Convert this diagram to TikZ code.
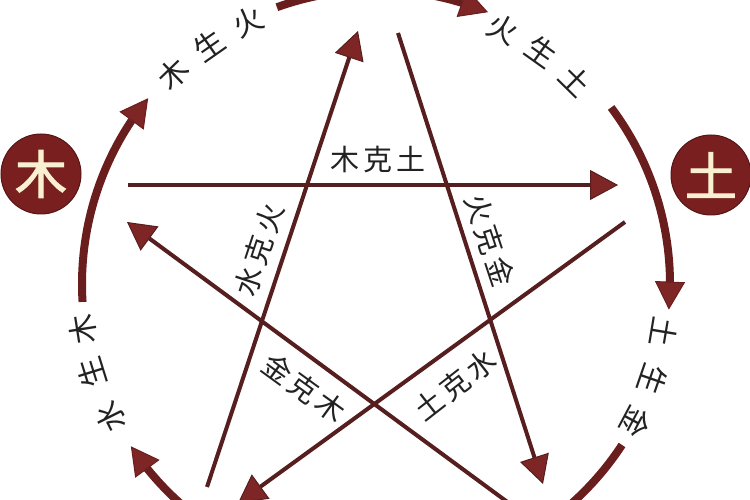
\documentclass[tikz,border=0pt]{standalone}
\usepackage{fontspec}
\newfontfamily\cjk{Noto Sans CJK SC}
\newfontfamily\cjkb{Noto Sans CJK SC}[FakeBold=2]
\usetikzlibrary{arrows.meta,bending,calc}
\definecolor{lin}{HTML}{561E1E}
\definecolor{ringc}{HTML}{6A1D1D}
\definecolor{afill}{HTML}{7E2626}
\definecolor{elemc}{HTML}{7A1F1F}
\definecolor{cream}{HTML}{F8F0D0}
\definecolor{ink}{HTML}{222222}
\newcommand\kg{\kern4pt}
\begin{document}
\begin{tikzpicture}[x=1pt,y=1pt,
  tipx/.tip={Triangle[length=28pt,width=30pt,fill=afill,line width=1pt]},
  kline/.style={draw=lin, line width=4pt, -tipx},
  rline/.style={draw=ringc, line width=8pt},
  rarrow/.style={draw=ringc, line width=8pt, -tipx},
  elem/.style={circle, fill=elemc, draw=elemc!70!black, line width=1pt, minimum size=80pt, inner sep=0pt, text=cream, font=\cjkb\fontsize{52}{52}\selectfont},
  rtxt/.style={inner sep=0pt, text=ink, font=\cjk\fontsize{30}{30}\selectfont},
  stxt/.style={inner sep=0pt, text=ink, font=\cjk\fontsize{29}{29}\selectfont}
]
\useasboundingbox (0,0) rectangle (750,500);
\clip (0,0) rectangle (750,500);
\fill[white] (0,0) rectangle (750,500);
\coordinate (C) at (376,216);

% elements
\node[elem] (wood) at (41,326) {木};
\node[elem] (earth) at (711,325) {土};

% ring arcs
\coordinate (r1s) at ($(C)+(183.5:294)$);
\draw[rarrow] (r1s) arc[start angle=183.5, end angle=140.8, radius=294];
\coordinate (r2s) at ($(C)+(109.7:294)$);
\draw[rarrow] (r2s) arc[start angle=109.7, end angle=67.6, radius=294];
\coordinate (r3s) at ($(C)+(36.9:294)$);
\draw[rarrow] (r3s) arc[start angle=36.9, end angle=-5, radius=294];
\coordinate (r4s) at ($(C)+(-33.2:294)$);
\draw[rline] (r4s) arc[start angle=-33.2, end angle=-65, radius=294];
\coordinate (r5s) at ($(C)+(250:294)$);
\draw[rarrow] (r5s) arc[start angle=250, end angle=213.5, radius=294];

% ring labels
\node[rtxt, rotate=44] (l1a) at ($(C)+(134:292)$) {木};
\node[rtxt, rotate=35] (l1b) at ($(C)+(125:292)$) {生};
\node[rtxt, rotate=26] (l1c) at ($(C)+(116:292)$) {火};
\node[rtxt, rotate=-26.5] (l2a) at ($(C)+(63.5:285)$) {火};
\node[rtxt, rotate=-35.5] (l2b) at ($(C)+(54.5:285)$) {生};
\node[rtxt, rotate=-44.5] (l2c) at ($(C)+(45.5:285)$) {土};
\node[rtxt, rotate=-99.5] (l3a) at ($(C)+(-9.5:292)$) {土};
\node[rtxt, rotate=-109] (l3b) at ($(C)+(-19:293)$) {生};
\node[rtxt, rotate=-118] (l3c) at ($(C)+(-28:295)$) {金};
\node[rtxt, rotate=116.6] (l4a) at ($(C)+(206.6:297)$) {水};
\node[rtxt, rotate=107.3] (l4b) at ($(C)+(197.3:298)$) {生};
\node[rtxt, rotate=98.9] (l4c) at ($(C)+(188.9:297)$) {木};

% star lines
\coordinate (mkA) at (128,315);
\coordinate (mkB) at (618,315);
\coordinate (shA) at (207,13);
\coordinate (shB) at (358,469);
\coordinate (hjA) at (398,467);
\coordinate (hjB) at (543,16);
\coordinate (tsA) at (625,278);
\coordinate (tsB) at (238,-3);
\coordinate (jmA) at (540,-26);
\coordinate (jmB) at (127,278);
\draw[kline] (mkA) -- (mkB);
\draw[kline] (shA) -- (shB);
\draw[kline] (hjA) -- (hjB);
\draw[kline] (tsA) -- (tsB);
\draw[kline] (jmA) -- (jmB);

% star labels
\node[stxt] (t1) at (378,340) {木\kg 克\kg 土};
\node[stxt, rotate=71.7] (t2) at (259,250) {水\kg 克\kg 火};
\node[stxt, rotate=-71.8] (t3) at (490,260) {火\kg 克\kg 金};
\node[stxt, rotate=-36] (t4) at (304,112) {金\kg 克\kg 木};
\node[stxt, rotate=38] (t5) at (455,115) {土\kg 克\kg 水};
\end{tikzpicture}
\end{document}
